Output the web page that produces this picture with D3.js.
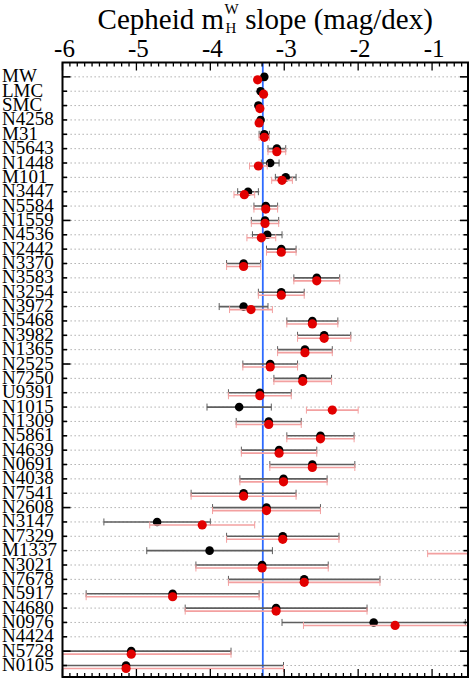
<!DOCTYPE html>
<html>
<head>
<meta charset="utf-8">
<script src="https://cdn.jsdelivr.net/npm/d3@7"></script>
<style>
  body { margin: 0; background: #fff; }
  svg { display: block; font-family: "Liberation Serif", "DejaVu Serif", serif; }
</style>
</head>
<body>
<div id="chart"></div>
<script>
// hosts, top to bottom
const hosts = ["MW", "LMC", "SMC", "N4258", "M31", "N5643", "N1448", "M101", "N3447", "N5584",
  "N1559", "N4536", "N2442", "N3370", "N3583", "N3254", "N3972", "N5468", "N3982", "N1365",
  "N2525", "N7250", "U9391", "N1015", "N1309", "N5861", "N4639", "N0691", "N4038", "N7541",
  "N2608", "N3147", "N7329", "M1337", "N3021", "N7678", "N5917", "N4680", "N0976", "N4424",
  "N5728", "N0105"];

// black points (slope) and their errors
const slopeBlack = [-3.27, -3.32, -3.35, -3.32, -3.27, -3.10, -3.19, -2.98, -3.49, -3.25,
  -3.26, -3.23, -3.04, -3.55, -2.56, -3.04, -3.55, -2.62, -2.46, -2.72,
  -3.19, -2.75, -3.33, -3.61, -3.21, -2.51, -3.07, -2.62, -3.01, -3.55,
  -3.24, -4.72, -3.02, -4.01, -3.30, -2.73, -4.51, -3.11, -1.79, null,
  -5.07, -5.14];
const errBlack = [0.03, 0.02, 0.03, 0.03, 0.07, 0.12, 0.12, 0.14, 0.14, 0.16,
  0.185, 0.20, 0.20, 0.23, 0.31, 0.31, 0.33, 0.345, 0.36, 0.37,
  0.37, 0.39, 0.425, 0.435, 0.44, 0.455, 0.51, 0.575, 0.59, 0.71,
  0.73, 0.72, 0.76, 0.85, 0.895, 1.025, 1.17, 1.23, 1.24, null,
  1.35, 2.13];

// red points (slope) and their errors
const slopeRed = [-3.36, -3.28, -3.33, -3.34, -3.27, -3.10, -3.35, -3.03, -3.54, -3.25,
  -3.26, -3.31, -3.04, -3.55, -2.56, -3.04, -3.45, -2.62, -2.46, -2.72,
  -3.19, -2.75, -3.33, -2.35, -3.21, -2.51, -3.07, -2.62, -3.01, -3.55,
  -3.24, -4.11, -3.02, -0.20, -3.30, -2.73, -4.51, -3.11, -1.50, null,
  -5.07, -5.14];
const errRed = [0.03, 0.02, 0.03, 0.03, 0.07, 0.12, 0.12, 0.14, 0.14, 0.16,
  0.185, 0.195, 0.20, 0.23, 0.31, 0.31, 0.29, 0.345, 0.36, 0.37,
  0.37, 0.39, 0.425, 0.35, 0.44, 0.455, 0.51, 0.575, 0.59, 0.71,
  0.73, 0.71, 0.76, 0.86, 0.895, 1.025, 1.17, 1.23, 1.24, null,
  1.35, 2.13];

const xTicks = [-6, -5, -4, -3, -2, -1];
const meanSlope = -3.29;

const W = 473, H = 682;
const L = 62.5, R = 468, T = 62.5, B = 677;

const svg = d3.select("#chart").append("svg")
  .attr("width", W).attr("height", H);

const x = d3.scaleLinear().domain([-6, -0.514]).range([L, R]);
const y = d3.scaleLinear().domain([0, 42.8]).range([T, B]);

svg.append("defs").append("clipPath").attr("id", "clip")
  .append("rect").attr("x", L).attr("y", T).attr("width", R - L).attr("height", B - T);

// dotted row lines
svg.append("g").selectAll("line").data(hosts).join("line")
  .attr("x1", L).attr("x2", R)
  .attr("y1", (d, i) => y(i + 1)).attr("y2", (d, i) => y(i + 1))
  .attr("stroke", "#9a9a9a").attr("stroke-width", 0.9)
  .attr("stroke-dasharray", "1.3,2.7");

// row labels
svg.append("g").selectAll("text").data(hosts).join("text")
  .attr("x", 2).attr("y", (d, i) => y(i + 1) + 5.5)
  .attr("font-size", 19).attr("fill", "#000")
  .text(d => d);

const plot = svg.append("g").attr("clip-path", "url(#clip)");

// mean slope line
plot.append("line")
  .attr("x1", x(meanSlope)).attr("x2", x(meanSlope))
  .attr("y1", T).attr("y2", B)
  .attr("stroke", "#2e6bff").attr("stroke-width", 1.8);

function drawSeries(vals, errs, dy, barColor) {
  const rows = hosts.map((h, i) => ({ i, v: vals[i], e: errs[i] })).filter(d => d.v != null);
  const g = plot.append("g");
  g.selectAll("line.bar").data(rows).join("line").attr("class", "bar")
    .attr("x1", d => x(d.v - d.e)).attr("x2", d => x(d.v + d.e))
    .attr("y1", d => y(d.i + 1) + dy).attr("y2", d => y(d.i + 1) + dy)
    .attr("stroke", barColor).attr("stroke-width", 1.6);
  [-1, 1].forEach(s => {
    g.selectAll("line.cap" + (s + 1)).data(rows).join("line").attr("class", "cap" + (s + 1))
      .attr("x1", d => x(d.v + s * d.e)).attr("x2", d => x(d.v + s * d.e))
      .attr("y1", d => y(d.i + 1) + dy - 3.5).attr("y2", d => y(d.i + 1) + dy + 3.5)
      .attr("stroke", barColor).attr("stroke-width", 1);
  });
  return { g, rows };
}

const blk = drawSeries(slopeBlack, errBlack, 0, "#5e5e5e");
const red = drawSeries(slopeRed, errRed, 3, "#f3a0a0");

blk.g.selectAll("circle").data(blk.rows).join("circle")
  .attr("cx", d => x(d.v)).attr("cy", d => y(d.i + 1))
  .attr("r", 4.3).attr("fill", "#000");
red.g.raise();
red.g.selectAll("circle").data(red.rows).join("circle")
  .attr("cx", d => x(d.v)).attr("cy", d => y(d.i + 1) + 3)
  .attr("r", 4.6).attr("fill", "#e20000");

// axes: ticks inward on all sides
const minorX = d3.range(-6, -0.5, 0.1).map(v => Math.round(v * 10) / 10);
const axG = svg.append("g").attr("stroke", "#000");
minorX.forEach(v => {
  const major = Math.abs(v - Math.round(v)) < 1e-6;
  const len = major ? 8 : 4;
  axG.append("line").attr("x1", x(v)).attr("x2", x(v)).attr("y1", T).attr("y2", T + len).attr("stroke-width", 1.3);
  axG.append("line").attr("x1", x(v)).attr("x2", x(v)).attr("y1", B).attr("y2", B - len).attr("stroke-width", 1.3);
});
hosts.forEach((h, i) => {
  const len = i % 10 === 0 ? 8 : 4.5;
  axG.append("line").attr("x1", L).attr("x2", L + len).attr("y1", y(i + 1)).attr("y2", y(i + 1)).attr("stroke-width", 1.6);
  axG.append("line").attr("x1", R).attr("x2", R - len).attr("y1", y(i + 1)).attr("y2", y(i + 1)).attr("stroke-width", 1.6);
});

svg.append("rect").attr("x", L).attr("y", T).attr("width", R - L).attr("height", B - T)
  .attr("fill", "none").attr("stroke", "#000").attr("stroke-width", 2);

// top tick labels
svg.append("g").selectAll("text").data(xTicks).join("text")
  .attr("x", d => x(d) + 2).attr("y", 56.5)
  .attr("text-anchor", "middle").attr("font-size", 25)
  .text(d => d);

// title with stacked sub/superscript
const title = svg.append("g");
const t1 = title.append("text").attr("x", 0).attr("y", 28.5).attr("font-size", 29).text("Cepheid m");
const w1 = t1.node().getComputedTextLength();
const sup = title.append("text").attr("x", w1 + 0.5).attr("y", 14).attr("font-size", 15).text("W");
title.append("text").attr("x", w1 + 1.5).attr("y", 33).attr("font-size", 15).text("H");
const wSub = sup.node().getComputedTextLength();
const t2 = title.append("text").attr("x", w1 + wSub + 7).attr("y", 28.5).attr("font-size", 29).text("slope (mag/dex)");
const total = w1 + wSub + 7 + t2.node().getComputedTextLength();
title.attr("transform", `translate(${(L + R) / 2 - total / 2},0)`);
</script>
</body>
</html>
